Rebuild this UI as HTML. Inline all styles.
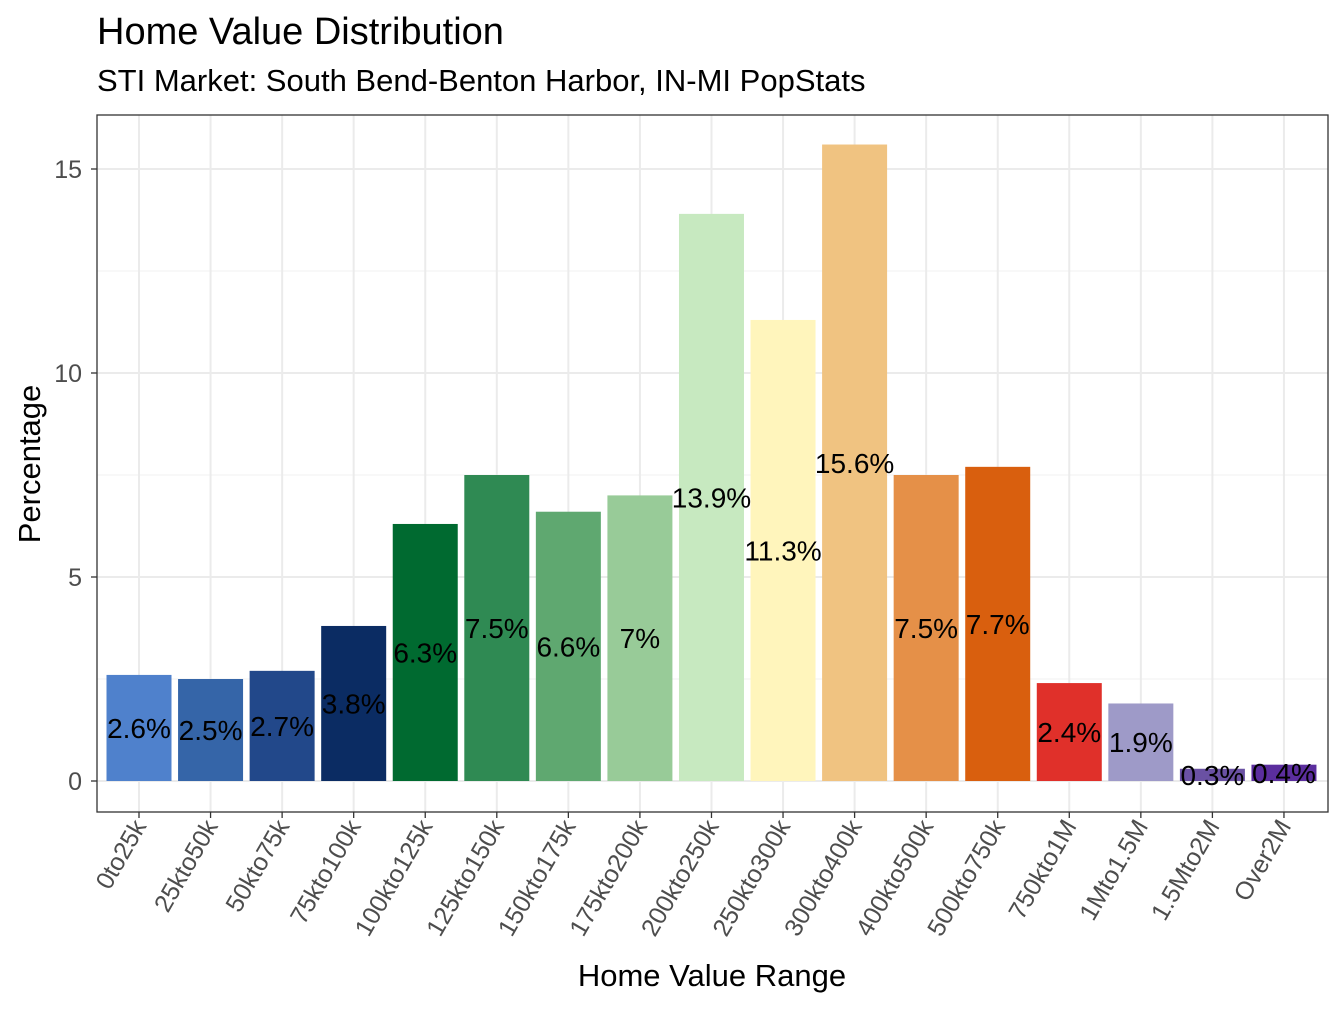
<!DOCTYPE html>
<html><head><meta charset="utf-8"><style>
body{margin:0;background:#fff;}
svg text{font-family:"Liberation Sans",Arial,sans-serif;}
</style></head><body>
<svg id="chart" width="1344" height="1008" viewBox="0 0 1344 1008">
<text x="97" y="44" font-size="38" fill="#000">Home Value Distribution</text>
<text x="97" y="91" font-size="31" fill="#000">STI Market: South Bend-Benton Harbor, IN-MI PopStats</text>
<g id="grid"></g>
<g id="bars"></g>
<g id="labels"></g>
<rect x="97" y="115" width="1231" height="697" fill="none" stroke="#333" stroke-width="1.3"/>
<g id="axes"></g>
<text x="712" y="986" font-size="31" text-anchor="middle">Home Value Range</text>
<text transform="translate(40,464) rotate(-90)" font-size="31" text-anchor="middle">Percentage</text>
</svg>
<script>
const categories=["0to25k","25kto50k","50kto75k","75kto100k","100kto125k","125kto150k","150kto175k","175kto200k","200kto250k","250kto300k","300kto400k","400kto500k","500kto750k","750kto1M","1Mto1.5M","1.5Mto2M","Over2M"];
const values=[2.6,2.5,2.7,3.8,6.3,7.5,6.6,7.0,13.9,11.3,15.6,7.5,7.7,2.4,1.9,0.3,0.4];
const valueLabels=["2.6%","2.5%","2.7%","3.8%","6.3%","7.5%","6.6%","7%","13.9%","11.3%","15.6%","7.5%","7.7%","2.4%","1.9%","0.3%","0.4%"];
const colors=["#4f81cc","#3565a8","#22488a","#0b2c63","#006a30","#2f8a53","#5fa870","#98cb98","#c7e9c0","#fff5bc","#f0c381","#e59048","#d95f0e","#e0302a","#9e9ac8","#6a51a3","#5b2e9e"];
const yTicks=[0,5,10,15];
const yMinor=[2.5,7.5,12.5];
const NS="http://www.w3.org/2000/svg";
const y=v=>781-v*40.8;
const x=i=>139+i*71.56;
const bw=65;
function mk(tag,attrs,parent){const e=document.createElementNS(NS,tag);for(const k in attrs)e.setAttribute(k,attrs[k]);document.getElementById(parent).appendChild(e);return e;}
yMinor.forEach(v=>{const l=mk("line",{x1:97,x2:1328,y1:y(v),y2:y(v),stroke:"#f0f0f0","stroke-width":1},"grid");

});
yTicks.forEach(v=>{const l=mk("line",{x1:97,x2:1328,y1:y(v),y2:y(v),stroke:"#ebebeb","stroke-width":2},"grid");


const t=mk("line",{x1:91,x2:97,y1:y(v),y2:y(v),stroke:"#333","stroke-width":1.3},"axes");


const tx=mk("text",{x:82,y:y(v)+9,"font-size":25,"text-anchor":"end",fill:"#4d4d4d"},"axes");


tx.textContent=v;});
categories.forEach((c,i)=>{
const g=mk("line",{x1:x(i),x2:x(i),y1:115,y2:812,stroke:"#ebebeb","stroke-width":2},"grid");


const r=mk("rect",{x:x(i)-bw/2,y:y(values[i]),width:bw,height:y(0)-y(values[i]),fill:colors[i]},"bars");


const lb=mk("text",{x:x(i),y:y(values[i]/2)+10,"font-size":28,"text-anchor":"middle",fill:"#000"},"labels");


lb.textContent=valueLabels[i];
const t=mk("line",{x1:x(i),x2:x(i),y1:812,y2:818,stroke:"#333","stroke-width":1.3},"axes");


const tx=mk("text",{transform:`translate(${x(i)+8},${826}) rotate(-60)`,"font-size":25,"text-anchor":"end",fill:"#4d4d4d"},"axes");


tx.textContent=c;});
</script>
</body></html>
